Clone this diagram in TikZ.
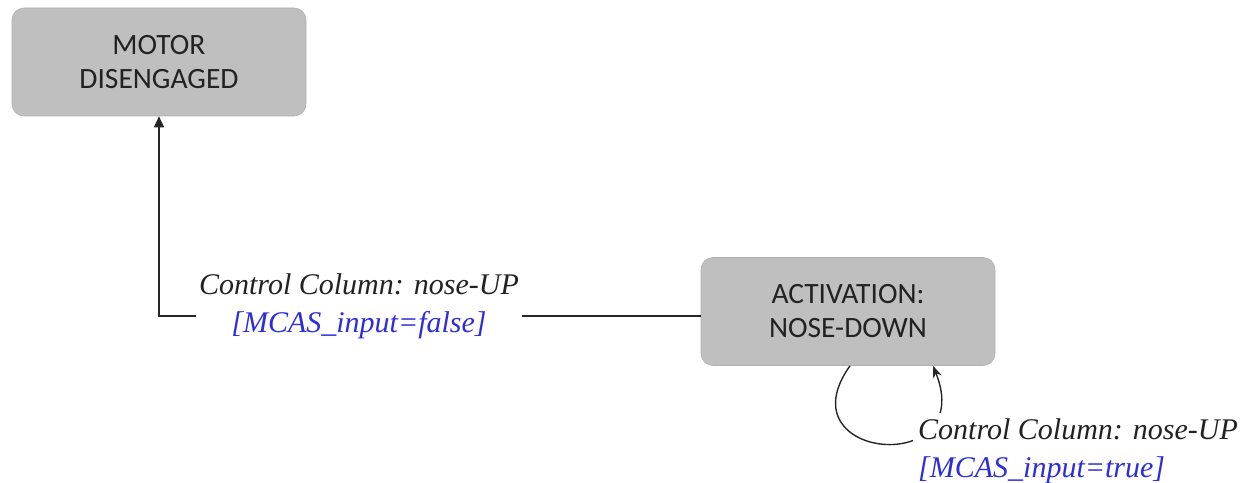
\documentclass[tikz,border=0pt]{standalone}
\usepackage{fontspec}
\setmainfont{Liberation Serif}
\newfontfamily\boxfont{Carlito}
\newfontfamily\guardfont{Liberation Serif}[ItalicFont={Liberation Serif Italic}]
\usetikzlibrary{arrows.meta}
\definecolor{stategray}{HTML}{BFBFBF}
\definecolor{guardblue}{RGB}{45,45,220}
\definecolor{inktext}{HTML}{222222}
\begin{document}
\begin{tikzpicture}[x=1pt,y=1pt,
  state/.style={fill=stategray, draw=stategray!92!black, line width=0.6,
    rounded corners=12, minimum width=294, minimum height=108,
    align=center, text=inktext, font=\boxfont\fontsize{29.5}{34}\selectfont},
  trans/.style={line width=1.4, draw=black!85},
  guard/.style={fill=white, inner sep=5, text=inktext,
    font=\guardfont\itshape\fontsize{30}{38}\selectfont},
]
\useasboundingbox (0,0) rectangle (1250,482);

% states
\node[state] (motor) at (159,420) {MOTOR\\DISENGAGED};
\node[state] (act) at (848,170.5) {ACTIVATION:\\NOSE-DOWN};

% transition: nose-up input disengages the motor
\draw[trans, -{Triangle[length=11,width=10]}]
  ([yshift=-4.5]act.west) -| (motor.south);
\node[guard, align=center, inner xsep=3] (g1) at (359,176)
  {Control Column: nose-UP\\{\color{guardblue}[MCAS\_input=false]}};

% self-transition on the activation state
\draw[trans, -{Stealth[length=12,width=9]}]
  ([xshift=2]act.south) .. controls +(-68,-95) and +(45,-112) .. ([xshift=85]act.south);
\node[guard, anchor=west, align=left] (g2) at (913,31)
  {Control Column: nose-UP\\{\color{guardblue}[MCAS\_input=true]}};
\end{tikzpicture}
\end{document}
